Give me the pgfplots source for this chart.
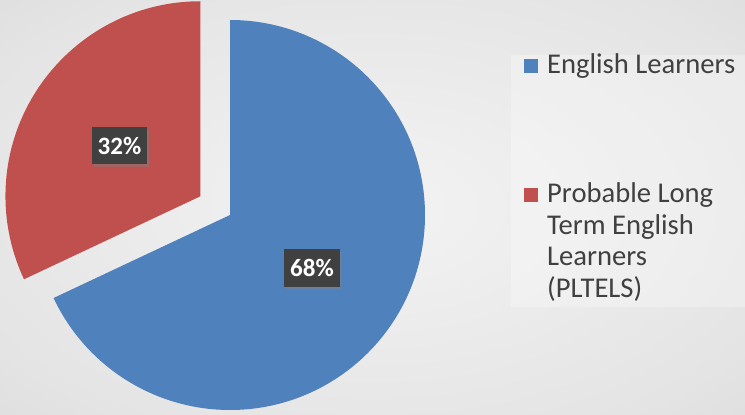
\documentclass[border=0pt]{standalone}
\usepackage{fontspec}
\setmainfont{Carlito}
\usepackage{pgfplots}
\pgfplotsset{compat=1.18}
\usepackage{pgfplotstable}
\usetikzlibrary{shadows}

\definecolor{elblue}{RGB}{79,129,189}
\definecolor{ltred}{RGB}{192,80,77}
\definecolor{lblbox}{RGB}{64,64,64}
\definecolor{txtgray}{RGB}{64,64,64}
\definecolor{bgin}{RGB}{243,243,243}
\definecolor{bgmid}{RGB}{228,228,228}
\definecolor{bgout}{RGB}{194,194,194}
\pgfdeclareradialshading{bgshade}{\pgfpoint{0bp}{0bp}}{color(0bp)=(bgin); color(30bp)=(bgmid); color(71bp)=(bgout)}

\pgfplotstableread{
name value
EL 68
PLTELS 32
}\piedata

\begin{document}
\begin{tikzpicture}
\pgfplotstablegetelem{0}{value}\of\piedata \let\vA\pgfplotsretval
\pgfplotstablegetelem{1}{value}\of\piedata \let\vB\pgfplotsretval
\pgfmathsetmacro\endA{90-3.6*\vA}
\pgfmathsetmacro\endB{90+3.6*\vB}
\pgfmathsetmacro\midB{90+1.8*\vB}
\pgfmathsetmacro\rcx{230+35*cos(\midB)}
\pgfmathsetmacro\rcy{200+35*sin(\midB)}
\begin{axis}[
  x=1pt, y=1pt, xmin=0, xmax=745, ymin=0, ymax=415,
  hide axis, scale only axis, clip=false,
]
\addplot[draw=none, forget plot] coordinates {(0,0) (745,415)};
% background
\shade[shading=bgshade] (axis cs:0,0) rectangle (axis cs:745,415);
% legend panel
\fill[white, opacity=0.28] (axis cs:511,108) rectangle (axis cs:745,360);
% pie slices
\fill[elblue] (axis cs:230,200) -- ++(90:195pt) arc[start angle=90, end angle=\endA, radius=195pt] -- cycle;
\fill[ltred] (axis cs:\rcx,\rcy) -- ++(90:195pt) arc[start angle=90, end angle=\endB, radius=195pt] -- cycle;
% data labels
\node[fill=lblbox, text=white, font=\bfseries\fontsize{25}{25}\selectfont,
  minimum width=55pt, minimum height=37pt, inner sep=0pt,
  drop shadow={opacity=0.45, shadow xshift=2pt, shadow yshift=-3pt}]
  at (axis cs:119.5,269) {\vB\%};
\node[fill=lblbox, text=white, font=\bfseries\fontsize{25}{25}\selectfont,
  minimum width=56pt, minimum height=38pt, inner sep=0pt,
  drop shadow={opacity=0.45, shadow xshift=2pt, shadow yshift=-3pt}]
  at (axis cs:312,147) {\vA\%};
% legend
\fill[elblue] (axis cs:524,342) rectangle (axis cs:538,356);
\fill[ltred] (axis cs:524,213) rectangle (axis cs:538,227);
\begin{scope}[every node/.style={anchor=base west, inner sep=0pt, text=txtgray, font=\fontsize{28.6}{32}\selectfont}]
\node at (axis cs:547,341) {English Learners};
\node at (axis cs:547,212) {Probable Long};
\node at (axis cs:547,180.5) {Term English};
\node at (axis cs:547,149) {Learners};
\node at (axis cs:547,117.5) {(PLTELS)};
\end{scope}
\end{axis}
\end{tikzpicture}
\end{document}
